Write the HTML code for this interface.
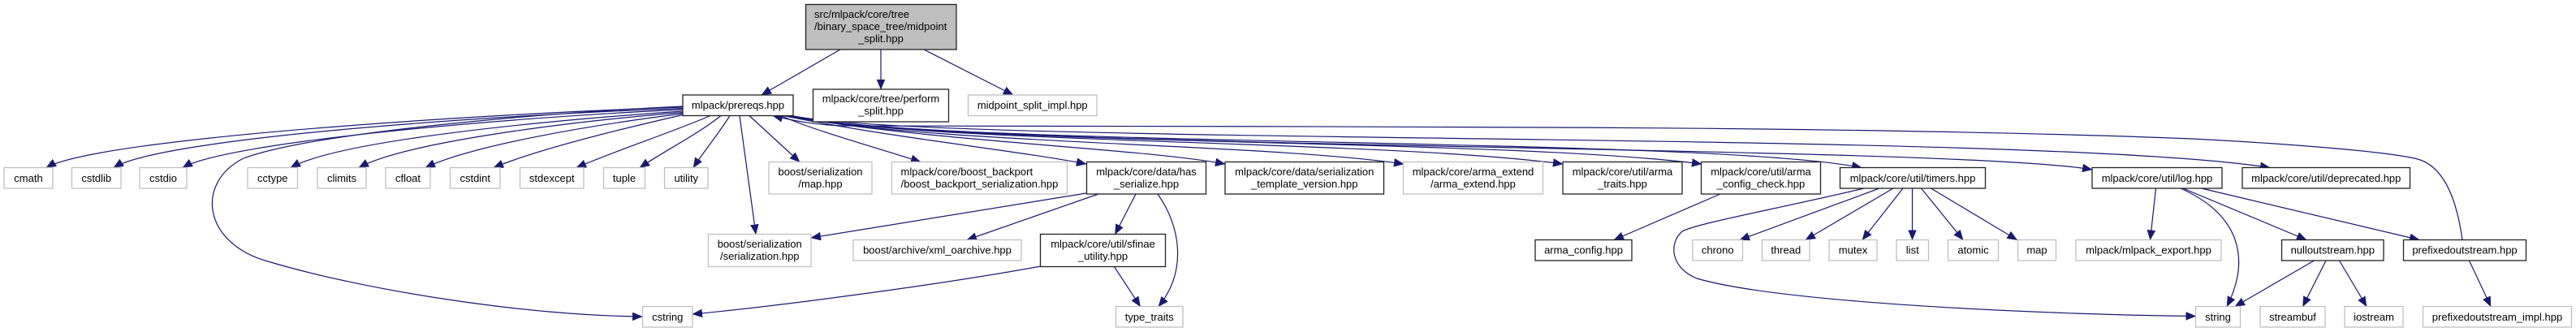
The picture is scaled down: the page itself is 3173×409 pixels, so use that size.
<!DOCTYPE html>
<html><head><meta charset="utf-8"><style>
html,body{margin:0;padding:0;background:#fff;}
svg{display:block;}
text{font-family:"Liberation Sans",Arial,sans-serif;font-size:13px;fill:#000;}
.g{fill:#fff;stroke:#bfbfbf;stroke-width:1.3;}
.b{fill:#fff;stroke:#222;stroke-width:1.3;}
.e{fill:none;stroke:#191970;stroke-width:1.2;marker-end:url(#a);}
</style></head><body>
<svg width="3173" height="409" viewBox="0 0 3173 409" xmlns="http://www.w3.org/2000/svg">
<defs><marker id="a" markerUnits="userSpaceOnUse" markerWidth="13" markerHeight="11" refX="12" refY="5" orient="auto"><path d="M0,0 L12,5 L0,10 z" fill="#191970" stroke="#191970" stroke-width="0.5"/></marker></defs>
<rect width="3173" height="409" fill="#fff"/>

<!-- edges -->
<g>
<path class="e" d="M1035,61 L938,117"/>
<path class="e" d="M1085,61 L1085,110"/>
<path class="e" d="M1138,61 L1248,117"/>

<path class="e" d="M841,132 C600,140 120,170 57,206.5"/>
<path class="e" d="M841,133.5 C600,142 200,170 140,206.5"/>
<path class="e" d="M841,135 C620,145 280,175 225,206.5"/>
<path class="e" d="M841,137 C680,148 420,172 358,206.5"/>
<path class="e" d="M841,138.5 C700,150 500,175 442,206.5"/>
<path class="e" d="M841,140 C720,155 580,180 524,206.5"/>
<path class="e" d="M841,141.5 C760,160 660,185 608,206.5"/>
<path class="e" d="M875,142.5 C830,162 760,185 710,206.5"/>
<path class="e" d="M888,142.5 C860,165 820,185 788,206.5"/>
<path class="e" d="M899,142.5 C885,165 868,185 854,206.5"/>
<path class="e" d="M841,131 C650,140 380,165 300,195 C240,225 250,300 330,322 C450,358 650,389 791,390"/>
<path class="e" d="M911,142.5 L931,288.5"/>
<path class="e" d="M923,142.5 L985,199.5"/>
<path class="e" d="M962,142.5 C1000,160 1080,182 1134,199.5"/>
<path class="e" d="M965,142.5 C1100,170 1250,185 1338,202"/>
<path class="e" d="M967,142.5 C1150,175 1400,182 1509,202"/>
<path class="e" d="M969,142.5 C1150,178 1550,176 1729,202"/>
<path class="e" d="M971,142.5 C1150,178 1700,172 1925,202"/>
<path class="e" d="M972,142.5 C1150,180 1850,170 2096,202"/>
<path class="e" d="M973,142.5 C1150,182 2100,168 2293,206.5"/>
<path class="e" d="M974,142.5 C1150,185 2400,178 2577,209"/>
<path class="e" d="M975,142.5 C1150,180 2500,160 2796,206.5"/>
<path class="e" d="M3033,295.5 C3026,245 3010,205 2978,196 C2940,186 2800,176 2700,171 C2500,163 2200,158 1900,157 C1600,155.5 1200,155 1040,155 C1005,154 978,149 952,142.5"/>

<path class="e" d="M1338,238 L999,293"/>
<path class="e" d="M1353,239 L1191,295.5"/>
<path class="e" d="M1399,239 L1373.5,288.5"/>
<path class="e" d="M1426,239 C1455,280 1462,335 1427,377.5"/>
<path class="e" d="M1282,328 C1150,352 950,378 853,387"/>
<path class="e" d="M1372.5,328.5 L1404.5,377.5"/>

<path class="e" d="M2119,239 L1988,295.5"/>

<path class="e" d="M2296,232 C2200,255 2090,275 2072,285 C2055,300 2058,330 2090,343 C2200,375 2550,388 2704.5,389.5"/>
<path class="e" d="M2315,232 L2143,295.5"/>
<path class="e" d="M2332,232 L2224,295.5"/>
<path class="e" d="M2344,232 L2294,295.5"/>
<path class="e" d="M2355.5,232 L2355.5,295.5"/>
<path class="e" d="M2366.5,232 L2418,295.5"/>
<path class="e" d="M2378.5,232 L2484.5,295.5"/>

<path class="e" d="M2655.5,232 L2648.5,295.5"/>
<path class="e" d="M2686,232 C2760,265 2772,320 2743,377.5"/>
<path class="e" d="M2689,232 L2841,295.5"/>
<path class="e" d="M2711.5,232 L2980,295.5"/>

<path class="e" d="M2850.5,321 L2753,377.5"/>
<path class="e" d="M2865,321 L2836.5,377.5"/>
<path class="e" d="M2881.5,321 L2915,377.5"/>
<path class="e" d="M3041.5,321 L3068,377.5"/>
</g>

<!-- row 1 -->
<rect x="992.5" y="5.5" width="185.5" height="55.5" fill="#bfbfbf" stroke="#222" stroke-width="1.3"/>
<text x="1003" y="22">src/mlpack/core/tree</text>
<text x="1003" y="37">/binary_space_tree/midpoint</text>
<text x="1085" y="52" text-anchor="middle">_split.hpp</text>

<!-- row 2 -->
<rect class="b" x="841" y="117" width="136" height="25.5"/>
<text x="909" y="134" text-anchor="middle">mlpack/prereqs.hpp</text>
<rect class="b" x="1001.5" y="110" width="167" height="40"/>
<text x="1085" y="126" text-anchor="middle">mlpack/core/tree/perform</text>
<text x="1085" y="141" text-anchor="middle">_split.hpp</text>
<rect class="g" x="1192.5" y="117" width="158.5" height="25.5"/>
<text x="1271.75" y="134" text-anchor="middle">midpoint_split_impl.hpp</text>

<!-- row 3 single -->
<rect class="g" x="5" y="206.5" width="60" height="25.5"/><text x="35" y="224" text-anchor="middle">cmath</text>
<rect class="g" x="88.5" y="206.5" width="60.5" height="25.5"/><text x="118.75" y="224" text-anchor="middle">cstdlib</text>
<rect class="g" x="172" y="206.5" width="58" height="25.5"/><text x="201" y="224" text-anchor="middle">cstdio</text>
<rect class="g" x="305" y="206.5" width="61.5" height="25.5"/><text x="335.75" y="224" text-anchor="middle">cctype</text>
<rect class="g" x="391" y="206.5" width="60" height="25.5"/><text x="421" y="224" text-anchor="middle">climits</text>
<rect class="g" x="475" y="206.5" width="55" height="25.5"/><text x="502.5" y="224" text-anchor="middle">cfloat</text>
<rect class="g" x="554.5" y="206.5" width="61.5" height="25.5"/><text x="585.25" y="224" text-anchor="middle">cstdint</text>
<rect class="g" x="640.5" y="206.5" width="78.5" height="25.5"/><text x="679.75" y="224" text-anchor="middle">stdexcept</text>
<rect class="g" x="743.5" y="206.5" width="51" height="25.5"/><text x="769" y="224" text-anchor="middle">tuple</text>
<rect class="g" x="818.5" y="206.5" width="53.5" height="25.5"/><text x="845.25" y="224" text-anchor="middle">utility</text>
<rect class="b" x="2266.5" y="206.5" width="179" height="25.5"/><text x="2356" y="224" text-anchor="middle">mlpack/core/util/timers.hpp</text>
<rect class="b" x="2577" y="206.5" width="160" height="25.5"/><text x="2657" y="224" text-anchor="middle">mlpack/core/util/log.hpp</text>
<rect class="b" x="2762" y="206.5" width="206.5" height="25.5"/><text x="2865.25" y="224" text-anchor="middle">mlpack/core/util/deprecated.hpp</text>

<!-- row 3 double -->
<rect class="g" x="947" y="199.5" width="127" height="39.5"/>
<text x="1010.5" y="216" text-anchor="middle">boost/serialization</text>
<text x="1010.5" y="231" text-anchor="middle">/map.hpp</text>
<rect class="g" x="1098.5" y="199.5" width="216" height="39.5"/>
<text x="1109.5" y="216">mlpack/core/boost_backport</text>
<text x="1206.5" y="231" text-anchor="middle">/boost_backport_serialization.hpp</text>
<rect class="b" x="1338.5" y="199.5" width="147" height="39.5"/>
<text x="1412" y="216" text-anchor="middle">mlpack/core/data/has</text>
<text x="1412" y="231" text-anchor="middle">_serialize.hpp</text>
<rect class="b" x="1509" y="199.5" width="195.5" height="39.5"/>
<text x="1606.75" y="216" text-anchor="middle">mlpack/core/data/serialization</text>
<text x="1606.75" y="231" text-anchor="middle">_template_version.hpp</text>
<rect class="g" x="1728.5" y="199.5" width="172" height="39.5"/>
<text x="1814.5" y="216" text-anchor="middle">mlpack/core/arma_extend</text>
<text x="1814.5" y="231" text-anchor="middle">/arma_extend.hpp</text>
<rect class="b" x="1925" y="199.5" width="147" height="39.5"/>
<text x="1998.5" y="216" text-anchor="middle">mlpack/core/util/arma</text>
<text x="1998.5" y="231" text-anchor="middle">_traits.hpp</text>
<rect class="b" x="2095.5" y="199.5" width="147" height="39.5"/>
<text x="2169" y="216" text-anchor="middle">mlpack/core/util/arma</text>
<text x="2169" y="231" text-anchor="middle">_config_check.hpp</text>

<!-- row 4 double -->
<rect class="g" x="872.5" y="288.5" width="126.5" height="40"/>
<text x="935.75" y="305" text-anchor="middle">boost/serialization</text>
<text x="935.75" y="320" text-anchor="middle">/serialization.hpp</text>
<rect class="b" x="1281.5" y="288.5" width="154" height="40"/>
<text x="1358.5" y="305" text-anchor="middle">mlpack/core/util/sfinae</text>
<text x="1358.5" y="320" text-anchor="middle">_utility.hpp</text>

<!-- row 4 single -->
<rect class="g" x="1051" y="295.5" width="207" height="25.5"/><text x="1154.5" y="312.5" text-anchor="middle">boost/archive/xml_oarchive.hpp</text>
<rect class="b" x="1891" y="295.5" width="119" height="25.5"/><text x="1950.5" y="312.5" text-anchor="middle">arma_config.hpp</text>
<rect class="g" x="2085" y="295.5" width="61.5" height="25.5"/><text x="2115.75" y="312.5" text-anchor="middle">chrono</text>
<rect class="g" x="2170.5" y="295.5" width="58.5" height="25.5"/><text x="2199.75" y="312.5" text-anchor="middle">thread</text>
<rect class="g" x="2253" y="295.5" width="59" height="25.5"/><text x="2282.5" y="312.5" text-anchor="middle">mutex</text>
<rect class="g" x="2336" y="295.5" width="39.5" height="25.5"/><text x="2355.75" y="312.5" text-anchor="middle">list</text>
<rect class="g" x="2399.5" y="295.5" width="62" height="25.5"/><text x="2430.5" y="312.5" text-anchor="middle">atomic</text>
<rect class="g" x="2485.5" y="295.5" width="47" height="25.5"/><text x="2509" y="312.5" text-anchor="middle">map</text>
<rect class="g" x="2557" y="295.5" width="179" height="25.5"/><text x="2646.5" y="312.5" text-anchor="middle">mlpack/mlpack_export.hpp</text>
<rect class="b" x="2810.5" y="295.5" width="125.5" height="25.5"/><text x="2873.25" y="312.5" text-anchor="middle">nulloutstream.hpp</text>
<rect class="b" x="2960.5" y="295.5" width="151" height="25.5"/><text x="3036" y="312.5" text-anchor="middle">prefixedoutstream.hpp</text>

<!-- row 5 -->
<rect class="g" x="791.5" y="377.5" width="61.5" height="25.5"/><text x="822.25" y="395" text-anchor="middle">cstring</text>
<rect class="g" x="1374.5" y="377.5" width="82.5" height="25.5"/><text x="1415.75" y="395" text-anchor="middle">type_traits</text>
<rect class="g" x="2704.5" y="377.5" width="55" height="25.5"/><text x="2732" y="395" text-anchor="middle">string</text>
<rect class="g" x="2784" y="377.5" width="80" height="25.5"/><text x="2824" y="395" text-anchor="middle">streambuf</text>
<rect class="g" x="2888" y="377.5" width="72" height="25.5"/><text x="2924" y="395" text-anchor="middle">iostream</text>
<rect class="g" x="2984.5" y="377.5" width="183" height="25.5"/><text x="3076" y="395" text-anchor="middle">prefixedoutstream_impl.hpp</text>
</svg>
</body></html>
